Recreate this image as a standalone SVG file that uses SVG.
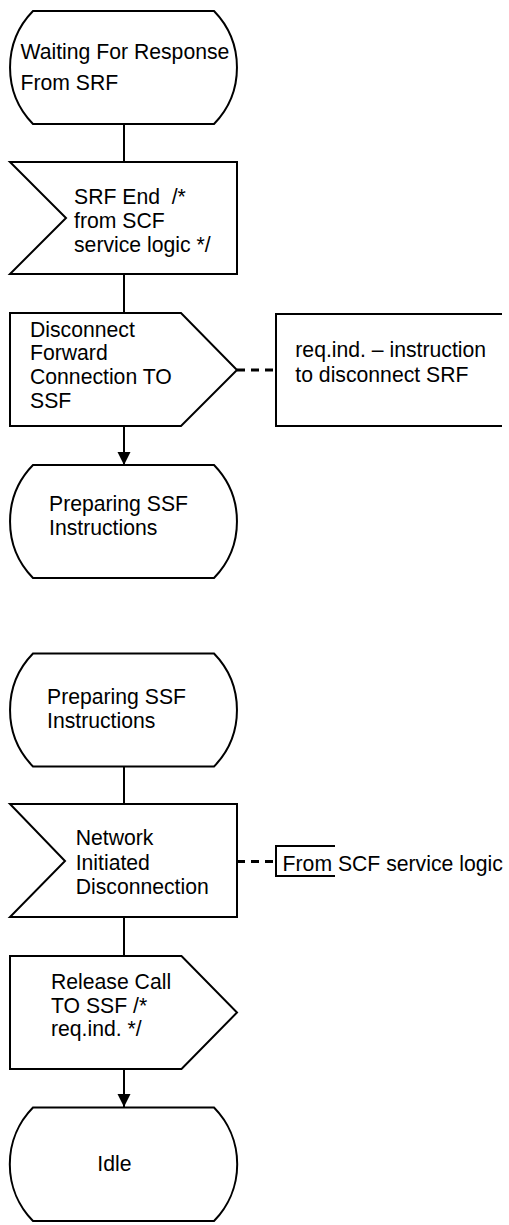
<svg xmlns="http://www.w3.org/2000/svg" width="509" height="1225" viewBox="0 0 509 1225">
<defs>
<style>
.shape{fill:#fff;stroke:#000;stroke-width:2;stroke-linejoin:miter}
.line{fill:none;stroke:#000;stroke-width:2}
.dash{fill:none;stroke:#000;stroke-width:3;stroke-dasharray:8 6}
.open{fill:none;stroke:#000;stroke-width:2}
text{font-family:"Liberation Sans",Arial,sans-serif;font-size:21.2px;fill:#000}
</style>
<marker id="arr" markerUnits="userSpaceOnUse" markerWidth="14" markerHeight="14" refX="13" refY="6.5" orient="auto" viewBox="0 0 14 13">
<path d="M0,0 L13,6.5 L0,13 Z" fill="#000"/>
</marker>
</defs>
<rect width="509" height="1225" fill="#fff"/>
<g id="connectors">
<line class="line" x1="124" y1="124" x2="124" y2="162"/>
<line class="line" x1="124" y1="274" x2="124" y2="313"/>
<line class="line" x1="124" y1="426" x2="124" y2="465" marker-end="url(#arr)"/>
<line class="dash" x1="237" y1="370" x2="276" y2="370"/>
<line class="line" x1="124" y1="767" x2="124" y2="804"/>
<line class="dash" x1="237" y1="861.5" x2="275" y2="861.5"/>
<line class="line" x1="124" y1="917" x2="124" y2="956"/>
<line class="line" x1="124" y1="1069" x2="124" y2="1107" marker-end="url(#arr)"/>
</g>
<g id="state-waiting">
<path class="shape" d="M33,11 L214,11 A81,81 0 0 1 214,124 L33,124 A81,81 0 0 1 33,11 Z"/>
<text><tspan x="20.5" y="58.5">Waiting For Response</tspan><tspan x="20.5" y="89.5">From SRF</tspan></text>
</g>
<g id="input-srf-end">
<path class="shape" d="M10,162 L237,162 L237,274 L10,274 L66,218 Z"/>
<text><tspan x="74" y="204">SRF End&#160; /*</tspan><tspan x="74" y="228">from SCF</tspan><tspan x="74" y="252">service logic */</tspan></text>
</g>
<g id="output-disconnect">
<path class="shape" d="M10,313 L181,313 L237,370 L181,426 L10,426 Z"/>
<text><tspan x="30" y="336.7">Disconnect</tspan><tspan x="30" y="360.4">Forward</tspan><tspan x="30" y="384.1">Connection TO</tspan><tspan x="30" y="407.8">SSF</tspan></text>
</g>
<g id="comment-disconnect">
<path class="open" d="M502,314 L276,314 L276,426 L502,426"/>
<text><tspan x="295.3" y="357">req.ind. – instruction</tspan><tspan x="295.3" y="381.5">to disconnect SRF</tspan></text>
</g>
<g id="state-preparing-1">
<path class="shape" d="M33,465 L214,465 A81,81 0 0 1 214,578 L33,578 A81,81 0 0 1 33,465 Z"/>
<text><tspan x="49" y="510.5">Preparing SSF</tspan><tspan x="49" y="534.5">Instructions</tspan></text>
</g>
<g id="state-preparing-2">
<path class="shape" d="M33,653.5 L214,653.5 A81,81 0 0 1 214,766.5 L33,766.5 A81,81 0 0 1 33,653.5 Z"/>
<text><tspan x="47" y="704">Preparing SSF</tspan><tspan x="47" y="727.5">Instructions</tspan></text>
</g>
<g id="input-network-disconnection">
<path class="shape" d="M10,804 L237,804 L237,917 L10,917 L65,861 Z"/>
<text><tspan x="75.7" y="845">Network</tspan><tspan x="75.7" y="869.5">Initiated</tspan><tspan x="75.7" y="894">Disconnection</tspan></text>
</g>
<g id="comment-scf">
<path class="open" d="M335,846 L276,846 L276,876 L335,876"/>
<text x="282.6" y="870.5">From SCF service logic</text>
</g>
<g id="output-release-call">
<path class="shape" d="M10,956 L181.5,956 L237,1012.5 L181.5,1069 L10,1069 Z"/>
<text><tspan x="51" y="989.3">Release Call</tspan><tspan x="51" y="1012.8">TO SSF /*</tspan><tspan x="51" y="1036.3">req.ind. */</tspan></text>
</g>
<g id="state-idle">
<path class="shape" d="M33,1107.5 L214,1107.5 A81,81 0 0 1 214,1221 L33,1221 A81,81 0 0 1 33,1107.5 Z"/>
<text x="97.3" y="1171.2">Idle</text>
</g>
</svg>
